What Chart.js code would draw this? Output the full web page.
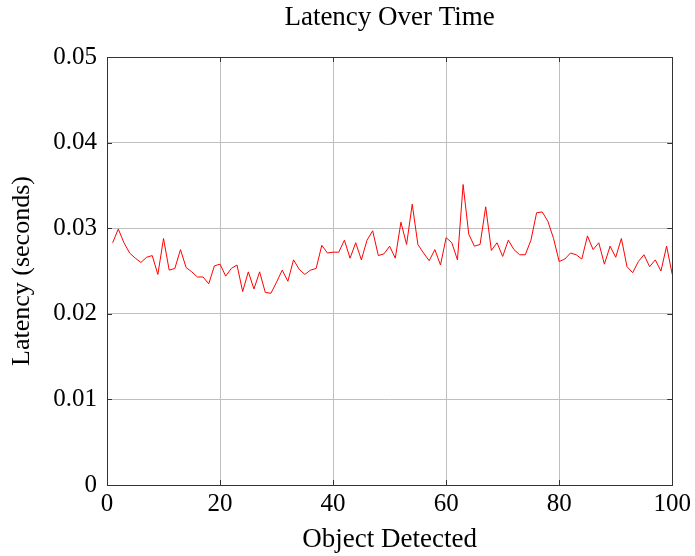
<!DOCTYPE html>
<html>
<head>
<meta charset="utf-8">
<script src="https://cdn.jsdelivr.net/npm/chart.js@4"></script>
<style>
  html, body { margin: 0; padding: 0; background: #fff; }
  #wrap { width: 695px; height: 556px; }
</style>
</head>
<body>
<div id="wrap"><canvas id="latencyChart" width="695" height="556"></canvas></div>
<script>
// latency (s) per detected object, objects 1..100
const latency = [
  0.0283, 0.0299, 0.0283, 0.0271, 0.0265, 0.0260, 0.0266, 0.0268, 0.0246, 0.0288,
  0.0251, 0.0253, 0.0275, 0.0254, 0.0249, 0.0243, 0.0243, 0.0235, 0.0256, 0.0258,
  0.0244, 0.0253, 0.0257, 0.0226, 0.0249, 0.0229, 0.0249, 0.0225, 0.0224, 0.0237,
  0.0251, 0.0238, 0.0263, 0.0252, 0.0246, 0.0251, 0.0253, 0.0280, 0.0271, 0.0272,
  0.0272, 0.0286, 0.0265, 0.0283, 0.0263, 0.0286, 0.0297, 0.0268, 0.0270, 0.0279,
  0.0265, 0.0307, 0.0281, 0.0328, 0.0281, 0.0271, 0.0262, 0.0275, 0.0257, 0.0289,
  0.0283, 0.0263, 0.0351, 0.0293, 0.0279, 0.0281, 0.0325, 0.0274, 0.0283, 0.0267,
  0.0286, 0.0275, 0.0269, 0.0269, 0.0286, 0.0318, 0.0319, 0.0308, 0.0288, 0.0261,
  0.0264, 0.0271, 0.0269, 0.0264, 0.0291, 0.0275, 0.0283, 0.0258, 0.0279, 0.0266,
  0.0288, 0.0255, 0.0248, 0.0261, 0.0269, 0.0255, 0.0263, 0.0250, 0.0279, 0.0246
];
const objectIndex = latency.map((_, i) => i + 1);

const xTicks = [0, 20, 40, 60, 80, 100];
const yTicks = [0, 0.01, 0.02, 0.03, 0.04, 0.05];

const serif = "'Liberation Serif', 'DejaVu Serif', serif";

// pgfplots-like frame with inward tick marks
const framePlugin = {
  id: "frame",
  afterDraw(chart) {
    const { ctx, chartArea: a, scales } = chart;
    ctx.save();
    ctx.strokeStyle = "#333";
    ctx.lineWidth = 1;
    ctx.beginPath();
    xTicks.forEach(v => {
      const px = Math.round(scales.x.getPixelForValue(v)) + 0.5;
      ctx.moveTo(px, a.bottom); ctx.lineTo(px, a.bottom - 5);
      ctx.moveTo(px, a.top); ctx.lineTo(px, a.top + 5);
    });
    yTicks.forEach(v => {
      const py = Math.round(scales.y.getPixelForValue(v)) + 0.5;
      ctx.moveTo(a.left, py); ctx.lineTo(a.left + 5, py);
      ctx.moveTo(a.right, py); ctx.lineTo(a.right - 5, py);
    });
    ctx.stroke();
    ctx.strokeRect(Math.round(a.left) + 0.5, Math.round(a.top) + 0.5,
      Math.round(a.right - a.left), Math.round(a.bottom - a.top));
    ctx.restore();
  }
};

new Chart(document.getElementById("latencyChart").getContext("2d"), {
  type: "line",
  data: {
    labels: objectIndex,
    datasets: [{
      label: "Latency",
      data: objectIndex.map((x, i) => ({ x: x, y: latency[i] })),
      borderColor: "#ff0000",
      borderWidth: 1,
      pointRadius: 0,
      fill: false,
      tension: 0
    }]
  },
  options: {
    responsive: false,
    animation: false,
    layout: { padding: { left: 0, right: 22, top: 0, bottom: 0 } },
    plugins: {
      legend: { display: false },
      tooltip: { enabled: false },
      title: {
        display: true,
        text: "Latency Over Time",
        fullSize: false,
        color: "#000",
        font: { family: serif, size: 27, weight: "normal" },
        padding: { top: 2, bottom: 22.6 }
      }
    },
    scales: {
      x: {
        type: "linear",
        min: 0,
        max: 100,
        afterBuildTicks: s => { s.ticks = xTicks.map(v => ({ value: v })); },
        afterFit: s => { s.height = 71; },
        grid: { color: "#bfbfbf", drawTicks: false },
        border: { display: false },
        ticks: { color: "#000", padding: 4, font: { family: serif, size: 25 } },
        title: {
          display: true,
          text: "Object Detected",
          color: "#000",
          font: { family: serif, size: 27 },
          padding: { top: 0, bottom: 0 }
        }
      },
      y: {
        min: 0,
        max: 0.05,
        afterBuildTicks: s => { s.ticks = yTicks.map(v => ({ value: v })); },
        afterFit: s => { s.width = 107; },
        grid: { color: "#bfbfbf", drawTicks: false },
        border: { display: false },
        ticks: {
          color: "#000",
          padding: 10,
          font: { family: serif, size: 25 },
          callback: v => (v === 0 ? "0" : v.toFixed(2))
        },
        title: {
          display: true,
          text: "Latency (seconds)",
          color: "#000",
          font: { family: serif, size: 26 },
          padding: { top: 7, bottom: 0 }
        }
      }
    }
  },
  plugins: [framePlugin]
});
</script>
</body>
</html>
